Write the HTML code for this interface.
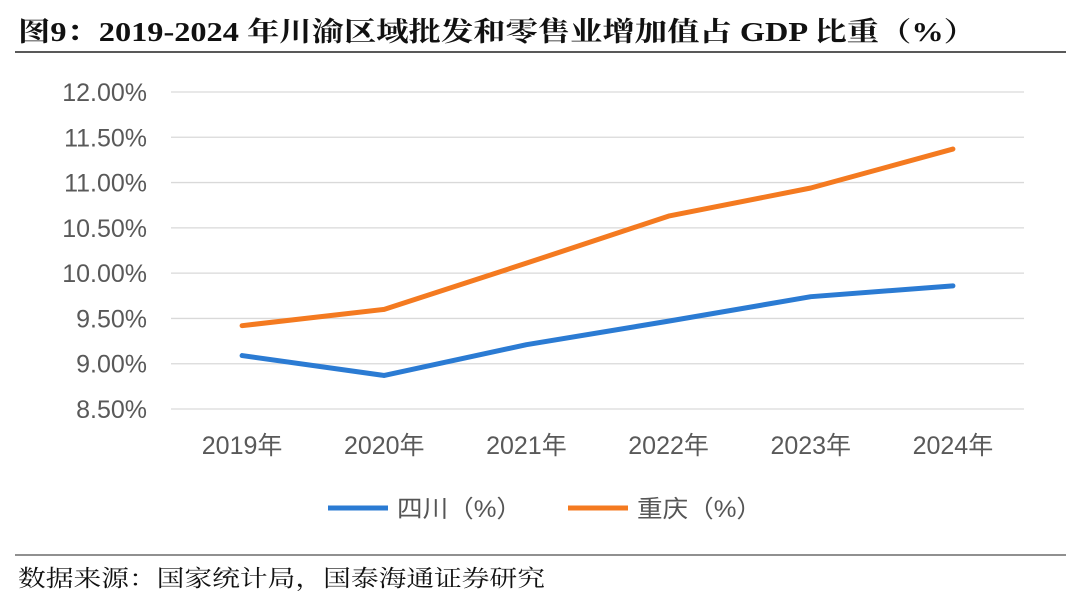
<!DOCTYPE html>
<html><head><meta charset="utf-8"><style>
html,body{margin:0;padding:0;background:#fff;width:1080px;height:599px;overflow:hidden}
svg{display:block}
</style></head><body>
<svg width="1080" height="599">
<text x="18" y="41" textLength="958" lengthAdjust="spacingAndGlyphs" font-family="Liberation Serif, Noto Serif CJK SC, serif" font-weight="bold" font-size="27" fill="#111">图9：2019-2024 年川渝区域批发和零售业增加值占 GDP 比重（%）</text>
<line x1="15" y1="52" x2="1066" y2="52" stroke="#222" stroke-width="1.5"/>
<g id="grid"></g><g id="ylab"></g><g id="xlab"></g><g id="series"></g>
<g>
<line x1="328" y1="508" x2="388" y2="508" stroke="#2B7BD3" stroke-width="5"/>
<text x="397" y="517" textLength="125" lengthAdjust="spacingAndGlyphs" font-family="Liberation Sans, Noto Sans CJK SC, sans-serif" font-size="24" fill="#555">四川（%）</text>
<line x1="568" y1="508" x2="628" y2="508" stroke="#F47A20" stroke-width="5"/>
<text x="637" y="517" textLength="125" lengthAdjust="spacingAndGlyphs" font-family="Liberation Sans, Noto Sans CJK SC, sans-serif" font-size="24" fill="#555">重庆（%）</text>
</g>
<line x1="15" y1="555" x2="1066" y2="555" stroke="#222" stroke-width="1"/>
<text x="18" y="586" textLength="527" lengthAdjust="spacingAndGlyphs" font-family="Liberation Serif, Noto Serif CJK SC, serif" font-size="23" fill="#111">数据来源：国家统计局，国泰海通证券研究</text>
</svg>
<script>
const categories=["2019年","2020年","2021年","2022年","2023年","2024年"];
const sichuan=[9.09,8.87,9.21,9.47,9.74,9.86];
const chongqing=[9.42,9.60,10.11,10.63,10.94,11.37];
const yTicks=[8.5,9.0,9.5,10.0,10.5,11.0,11.5,12.0];
const NS="http://www.w3.org/2000/svg";
const L=171,R=1024,yTop=92,yBot=409,yMin=8.5,yMax=12;
const y=v=>yBot-(v-yMin)/(yMax-yMin)*(yBot-yTop);
const bw=(R-L)/categories.length;
const x=i=>L+bw*(i+0.5);
function mk(t,a,p){const e=document.createElementNS(NS,t);for(const k in a)e.setAttribute(k,a[k]);p.appendChild(e);return e;}
const g=document.getElementById('grid'),yl=document.getElementById('ylab'),xl=document.getElementById('xlab'),s=document.getElementById('series');
yTicks.forEach(v=>{
 const ln=mk('line',{x1:L,x2:R,y1:y(v),y2:y(v),stroke:'#d9d9d9','stroke-width':1.3},g);
 
 
 const t=mk('text',{x:147,y:y(v)+9,'text-anchor':'end','font-family':'Liberation Sans, sans-serif','font-size':25,fill:'#595959'},yl);
 t.textContent=v.toFixed(2)+'%';
 
 
});
categories.forEach((c,i)=>{
 const t=mk('text',{x:x(i),y:454,'text-anchor':'middle','font-family':'Liberation Sans, Noto Sans CJK SC, sans-serif','font-size':25,fill:'#595959'},xl);
 t.textContent=c;
 
 
});
function line(data,col,name){
 const p=mk('polyline',{points:data.map((v,i)=>x(i)+','+y(v)).join(' '),fill:'none',stroke:col,'stroke-width':5,'stroke-linejoin':'round','stroke-linecap':'round'},s);
 
 
}
line(sichuan,'#2B7BD3','sichuan-line');
line(chongqing,'#F47A20','chongqing-line');
</script>
</body></html>
